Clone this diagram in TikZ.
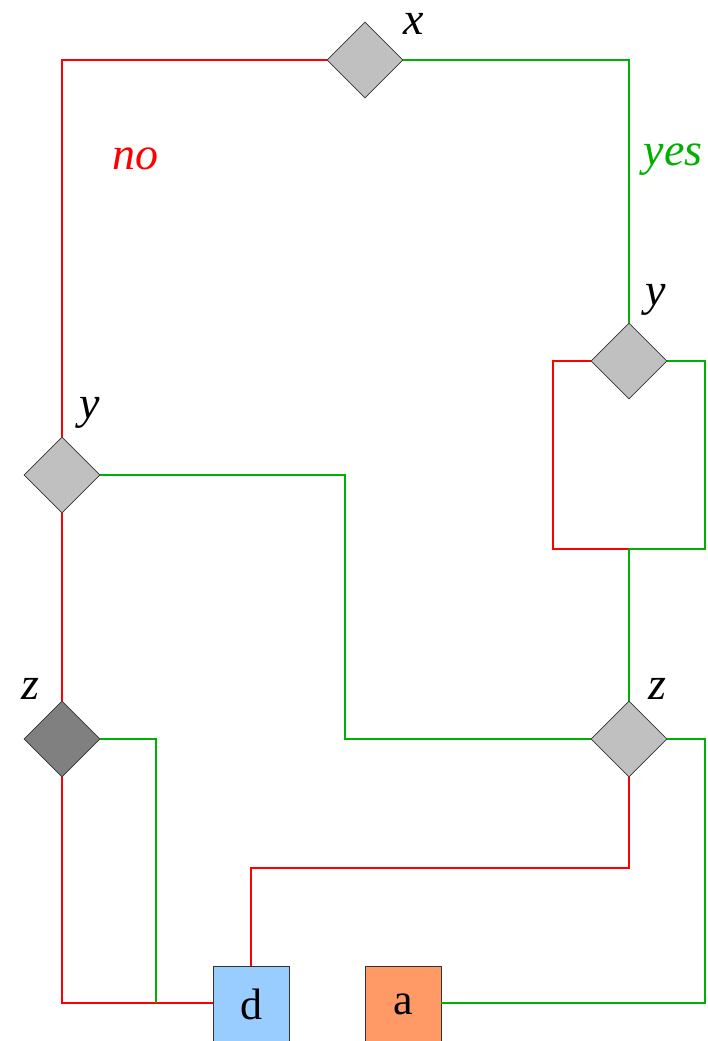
\documentclass[tikz,border=0pt]{standalone}
\usepackage{fontspec}
\setmainfont{Liberation Serif}
\usetikzlibrary{shapes.geometric}
\definecolor{nored}{RGB}{255,0,0}
\definecolor{yesgreen}{RGB}{0,176,0}
\definecolor{diagray}{RGB}{192,192,192}
\definecolor{diadark}{RGB}{128,128,128}
\definecolor{leafblue}{RGB}{153,204,255}
\definecolor{leaforange}{RGB}{255,153,102}
\begin{document}
\begin{tikzpicture}[x=1pt,y=-1pt,
  test/.style={diamond,draw=black!80,fill=diagray,line width=0.8pt,
    minimum width=76pt,minimum height=76pt,inner sep=0pt},
  leaf/.style={rectangle,draw=black!80,line width=0.8pt,minimum width=76pt,
    minimum height=76pt,inner sep=0pt,font=\fontsize{44}{48}\selectfont},
  varlabel/.style={inner sep=0pt,font=\fontsize{46}{50}\selectfont\itshape},
  noedge/.style={draw=nored,line width=1.1pt},
  yesedge/.style={draw=yesgreen,line width=1.1pt}]
\useasboundingbox (0,0) rectangle (708,1041);
% decision nodes
\node[test] (x)  at (365,60) {};
\node[test] (yr) at (629,361) {};
\node[test] (yl) at (62,475) {};
\node[test,fill=diadark] (zl) at (62,739) {};
\node[test] (zr) at (629,739) {};
% leaves
\node[leaf,fill=leafblue]   (d) at (251,1004) {d};
\node[leaf,fill=leaforange] (a) at (403,1004) {a};
% variable labels
\node[varlabel] (lx)  at (414,24)  {x};
\node[varlabel] (lyr) at (656,300) {y};
\node[varlabel] (lyl) at (90,413)  {y};
\node[varlabel] (lzl) at (30,689)  {z};
\node[varlabel] (lzr) at (657,689) {z};
% branch labels
\node[varlabel,text=nored]     (no)  at (135,159) {no};
\node[varlabel,text=yesgreen] (yes) at (673,160) {yes};
% junction points
\coordinate (jr) at (629,549);
\coordinate (jl) at (156,1003);
% edges
\draw[noedge]  (x.west) -| (yl.north);
\draw[yesedge] (x.east) -| (yr.north);
\draw[noedge]  (yr.west) -- (553,361) -- (553,549) -- (jr);
\draw[yesedge] (yr.east) -- (705,361) -- (705,549) -- (jr);
\draw[yesedge] (jr) -- (zr.north);
\draw[noedge]  (yl.south) -- (zl.north);
\draw[yesedge] (yl.east) -- (345,475) -- (345,739) -- (zr.west);
\draw[noedge]  (zl.south) |- (jl) -- (d.west |- jl);
\draw[yesedge] (zl.east) -| (jl);
\draw[noedge]  (zr.south) -- (629,868) -| (d.north);
\draw[yesedge] (zr.east) -- (705,739) |- (a.east |- jl);
\end{tikzpicture}
\end{document}
